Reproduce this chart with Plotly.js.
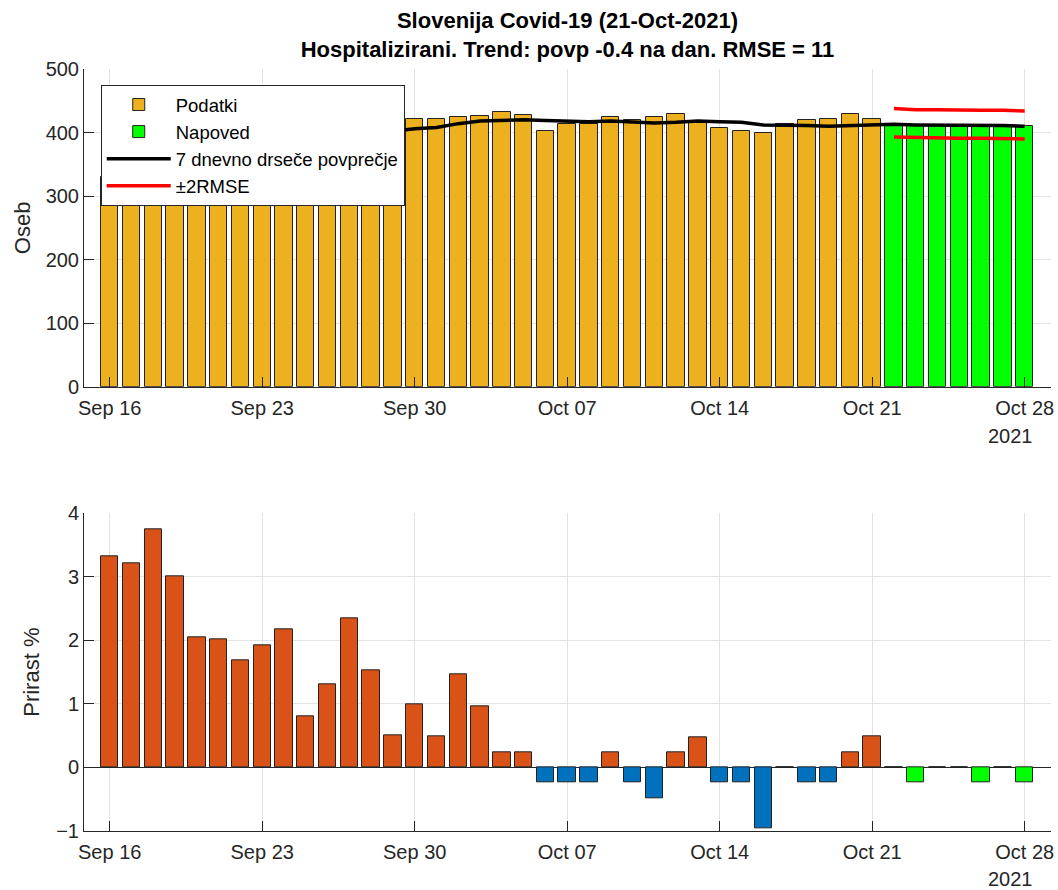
<!DOCTYPE html>
<html>
<head>
<meta charset="utf-8">
<script src="https://cdn.plot.ly/plotly-3.0.1.min.js"></script>
<style>html,body{margin:0;padding:0;background:#fff;}#chart{width:1058px;height:890px;}</style>
</head>
<body>
<div id="chart"></div>
<script>
// ---- data ----
const dataDates = ['2021-09-16','2021-09-17','2021-09-18','2021-09-19','2021-09-20','2021-09-21','2021-09-22','2021-09-23','2021-09-24','2021-09-25','2021-09-26','2021-09-27','2021-09-28','2021-09-29','2021-09-30','2021-10-01','2021-10-02','2021-10-03','2021-10-04','2021-10-05','2021-10-06','2021-10-07','2021-10-08','2021-10-09','2021-10-10','2021-10-11','2021-10-12','2021-10-13','2021-10-14','2021-10-15','2021-10-16','2021-10-17','2021-10-18','2021-10-19','2021-10-20','2021-10-21'];
const hospitalized = [330,338,349,355,362,368,375,381,388,391,396,404,410,414,421,421,424,426,432,428,402,414,414,424,419,424,429,418,407,403,399,413,419,422,429,422];
const forecastDates = ['2021-10-22','2021-10-23','2021-10-24','2021-10-25','2021-10-26','2021-10-27','2021-10-28'];
const forecast = [413,412,412,412,411,411,410];
const movingAvg = [310,320,332,342,349,356,362,369,377,380,385,394,400,402,406,408,414,418,419,420,419,418,417,418,417,415,416,418,417,416,412,412,411,410,411,413,413,412,412,412,411,411,410];
const rmseUpper = [438,436,436,435,435,435,434];
const rmseLower = [393,392,392,391,391,391,390];
const growthData = [3.32,3.22,3.75,3.01,2.05,2.01,1.68,1.93,2.17,0.80,1.31,2.34,1.53,0.50,0.99,0.49,1.46,0.96,0.24,0.24,-0.24,-0.24,-0.24,0.24,-0.24,-0.48,0.24,0.48,-0.24,-0.24,-0.96,0,-0.24,-0.24,0.24,0.49];
const growthForecast = [0,-0.24,0,0,-0.24,0,-0.24];
const tickDates = ['2021-09-16','2021-09-23','2021-09-30','2021-10-07','2021-10-14','2021-10-21','2021-10-28'];
const tickLabels = ['Sep 16','Sep 23','Sep 30','Oct 07','Oct 14','Oct 21','Oct 28'];

// ---- styling ----
const FONT = 'Liberation Sans, Arial, Helvetica, sans-serif';
const AX = '#262626';
const GRID = '#e3e3e3';
const DAY = 86400000;
const barW = 0.8 * DAY;
const allDates = dataDates.concat(forecastDates);

const traces = [
  {type:'bar', name:'Podatki', x:dataDates, y:hospitalized, width:barW,
   marker:{color:'#EDB120', line:{color:'#222', width:1}}, xaxis:'x', yaxis:'y'},
  {type:'bar', name:'Napoved', x:forecastDates, y:forecast, width:barW,
   marker:{color:'#00FF00', line:{color:'#222', width:1}}, xaxis:'x', yaxis:'y'},
  {type:'scatter', mode:'lines', name:'7 dnevno drseče povprečje', x:allDates, y:movingAvg,
   line:{color:'#000', width:3.5}, xaxis:'x', yaxis:'y'},
  {type:'scatter', mode:'lines', name:'±2RMSE', legendgroup:'rmse', x:forecastDates, y:rmseUpper,
   line:{color:'#FF0000', width:3.5}, xaxis:'x', yaxis:'y'},
  {type:'scatter', mode:'lines', name:'±2RMSE', legendgroup:'rmse', showlegend:false, x:forecastDates, y:rmseLower,
   line:{color:'#FF0000', width:3.5}, xaxis:'x', yaxis:'y'},
  {type:'bar', name:'Prirast', showlegend:false, x:dataDates, y:growthData, width:barW,
   marker:{color:growthData.map(v => v >= 0 ? '#D95319' : '#0072BD'), line:{color:'#222', width:1}},
   xaxis:'x2', yaxis:'y2'},
  {type:'bar', name:'Prirast napoved', showlegend:false, x:forecastDates, y:growthForecast, width:barW,
   marker:{color:'#00FF00', line:{color:'#222', width:1}}, xaxis:'x2', yaxis:'y2'}
];

const xRange = ['2021-09-14 19:40', '2021-10-29 05:00'];
function xax(anchor){
  return {type:'date', range:xRange, anchor:anchor, tickmode:'array', tickvals:tickDates, ticktext:tickLabels,
    showline:true, linecolor:AX, linewidth:1, ticks:'inside', ticklen:10, tickcolor:AX, tickwidth:1,
    showgrid:true, gridcolor:GRID, gridwidth:1, zeroline:false, ticklabelstandoff:3,
    tickfont:{family:FONT, size:20, color:AX}};
}
const layout = {
  width:1058, height:890,
  margin:{l:84, r:7, t:69, b:59},
  paper_bgcolor:'#fff', plot_bgcolor:'#fff',
  barmode:'overlay', bargap:0,
  showlegend:true,
  font:{family:FONT, color:AX},
  title:{text:'<b>Slovenija Covid-19 (21-Oct-2021)</b><br><b>Hospitalizirani. Trend: povp -0.4 na dan. RMSE = 11</b>',
    font:{family:FONT, size:22, color:'#000'}, x:0.5, xref:'paper', xanchor:'center', y:0.968, yref:'container', yanchor:'top'},
  xaxis: xax('y'),
  xaxis2: Object.assign(xax('y2'), {matches:'x'}),
  yaxis:{domain:[0.5831,1], range:[0,500], tickvals:[0,100,200,300,400,500],
    showline:true, linecolor:AX, linewidth:1, ticks:'inside', ticklen:10, tickcolor:AX, tickwidth:1,
    showgrid:true, gridcolor:GRID, zeroline:false,
    tickfont:{family:FONT, size:20, color:AX},
    title:{text:'Oseb', font:{family:FONT, size:22, color:AX}, standoff:8}},
  yaxis2:{domain:[0,0.4169], range:[-1,4], tickvals:[-1,0,1,2,3,4],
    showline:true, linecolor:AX, linewidth:1, ticks:'inside', ticklen:10, tickcolor:AX, tickwidth:1,
    showgrid:true, gridcolor:GRID, zeroline:true, zerolinecolor:AX, zerolinewidth:1,
    tickfont:{family:FONT, size:20, color:AX},
    title:{text:'Prirast %', font:{family:FONT, size:22, color:AX}, standoff:10}},
  legend:{x:0.0173, y:0.979, xanchor:'left', yanchor:'top', bgcolor:'#fff', bordercolor:AX, borderwidth:1,
    font:{family:FONT, size:18.5, color:'#000'}, itemwidth:64, tracegroupgap:0, traceorder:'normal'},
  annotations:[
    {text:'2021', xref:'paper', yref:'paper', x:0.958, y:0.518, showarrow:false, xanchor:'center', yanchor:'middle', font:{family:FONT, size:20, color:AX}},
    {text:'2021', xref:'paper', yref:'paper', x:0.958, y:-0.0635, showarrow:false, xanchor:'center', yanchor:'middle', font:{family:FONT, size:20, color:AX}}
  ]
};
Plotly.newPlot('chart', traces, layout, {displayModeBar:false, responsive:false});
</script>
</body>
</html>
